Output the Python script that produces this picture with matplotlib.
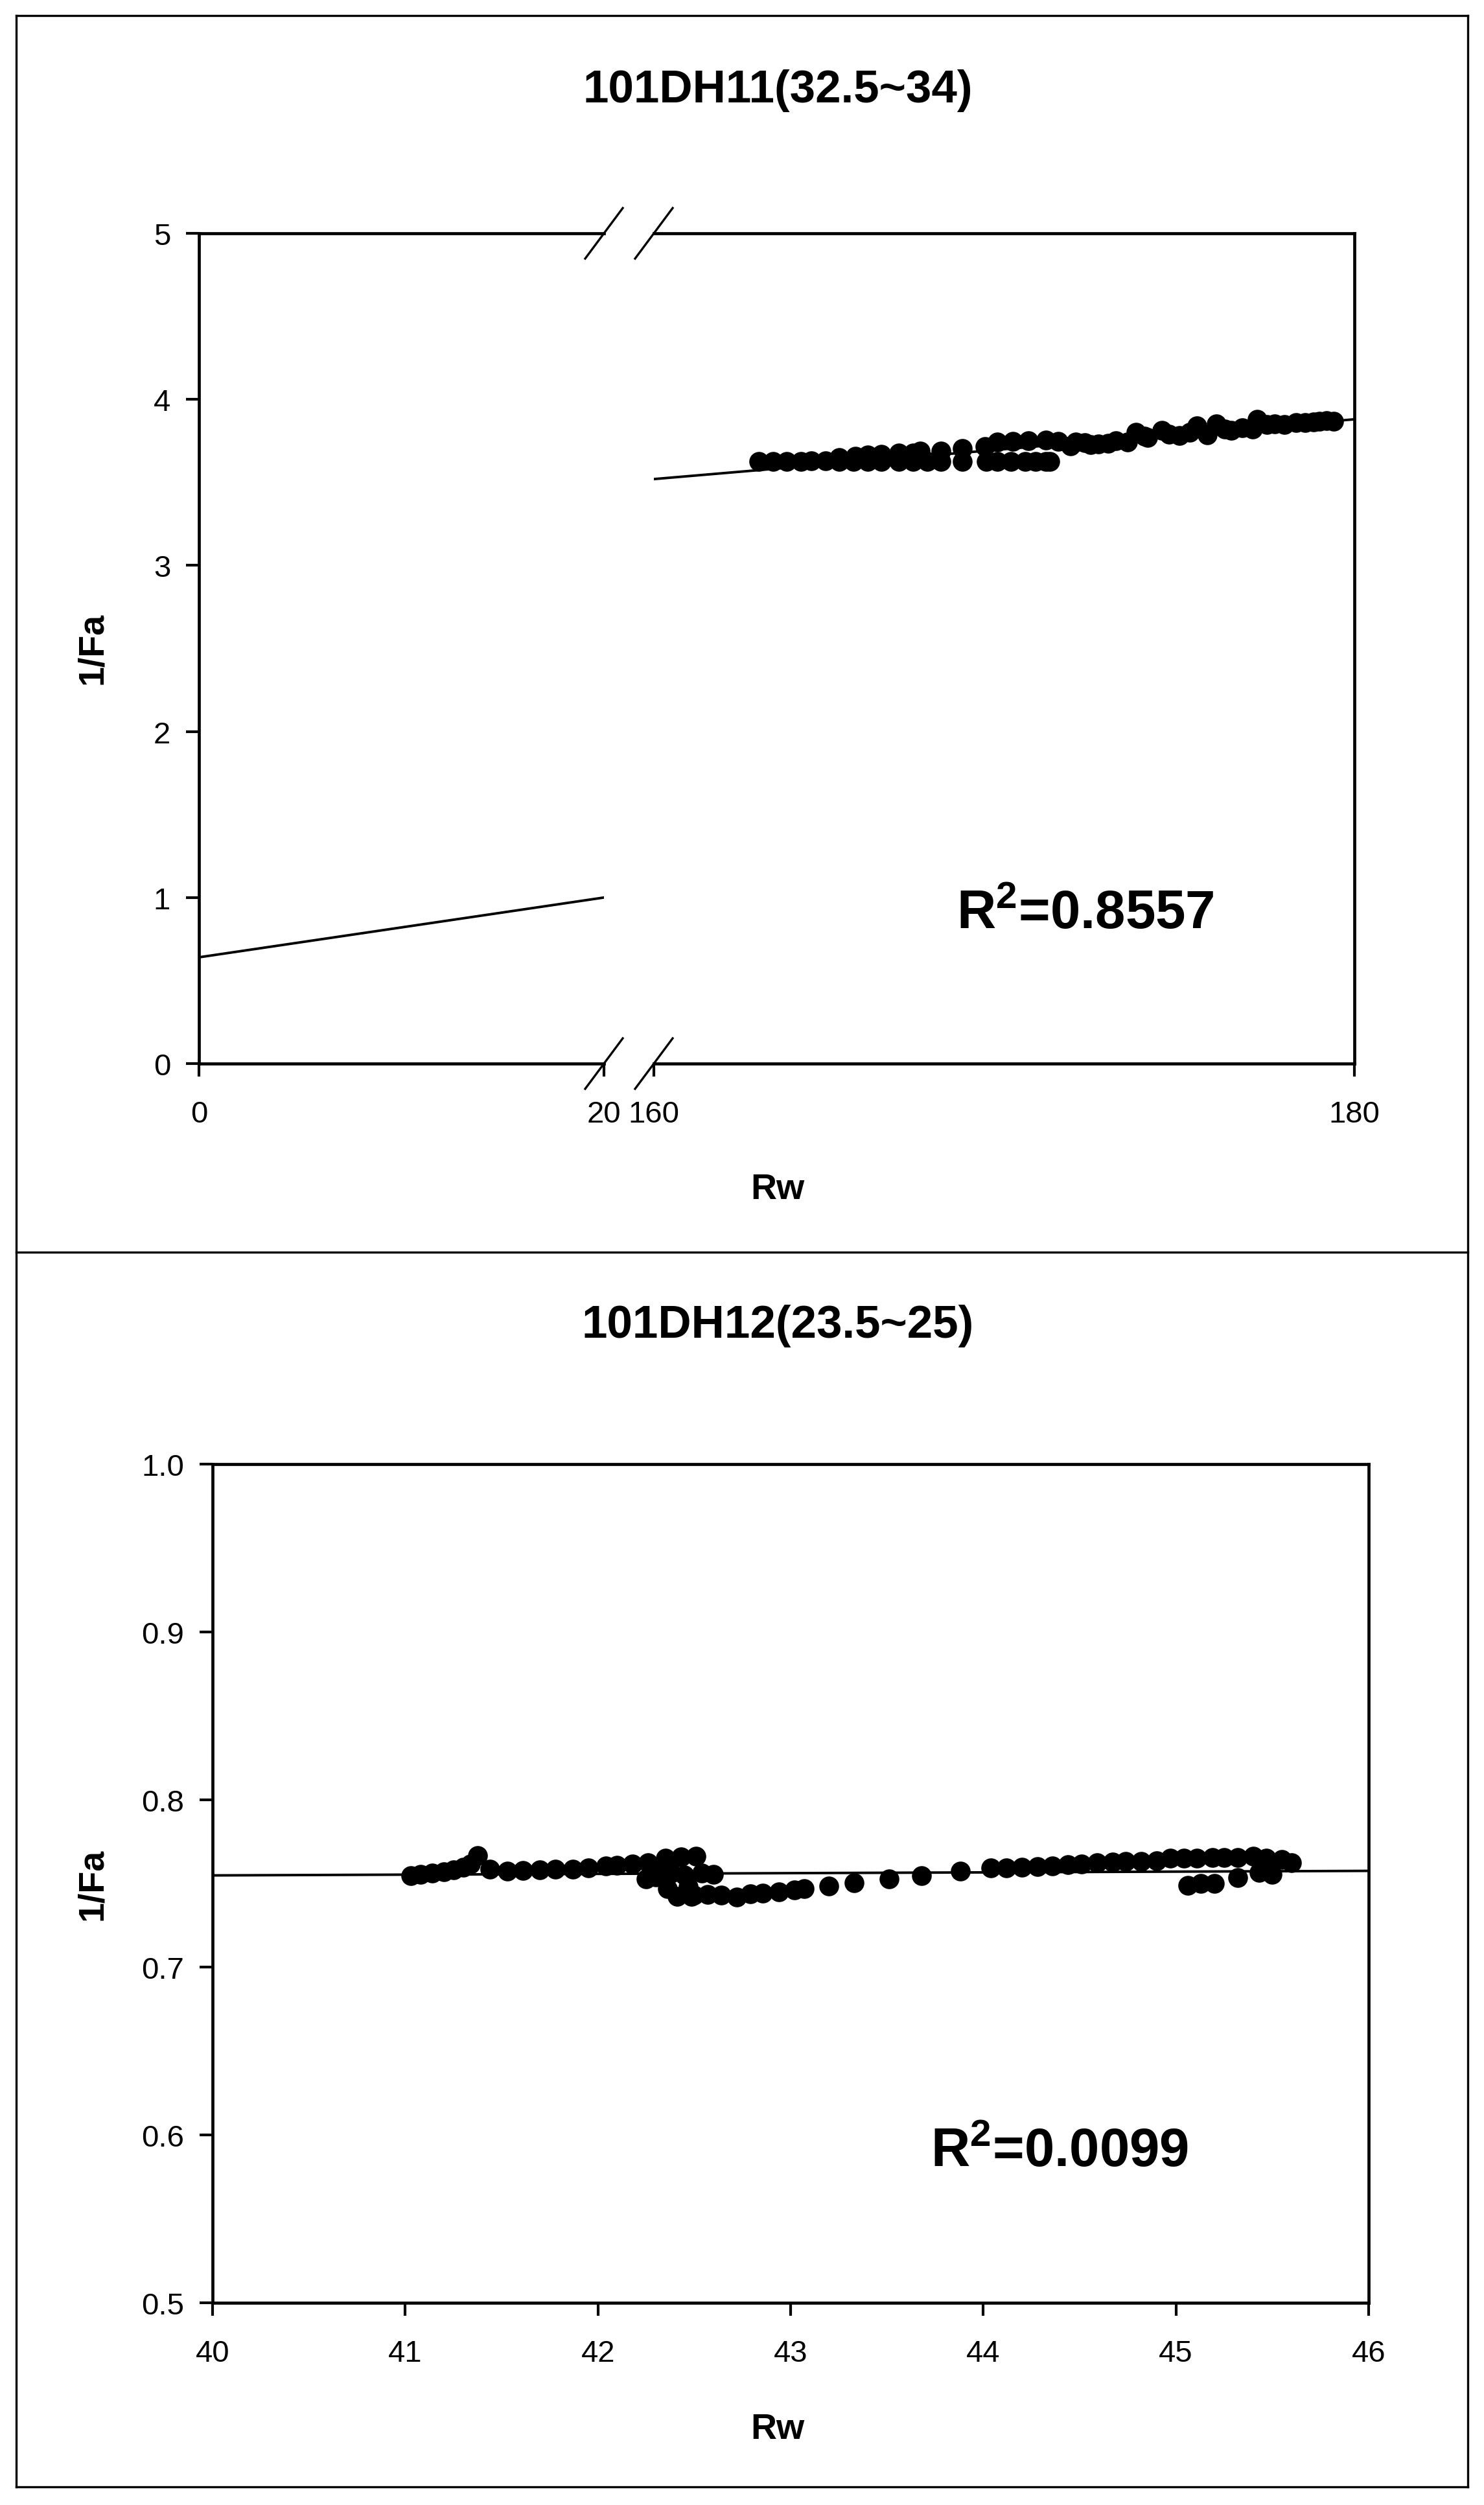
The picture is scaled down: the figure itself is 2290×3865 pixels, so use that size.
import numpy as np
import matplotlib
matplotlib.use("Agg")
import matplotlib.pyplot as plt
from matplotlib.lines import Line2D

plt.rcParams['font.family'] = ['Liberation Sans', 'DejaVu Sans']
plt.rcParams['mathtext.fontset'] = 'custom'
plt.rcParams['mathtext.rm'] = 'Liberation Sans'
plt.rcParams['mathtext.bf'] = 'Liberation Sans:bold'

# données
title_top = "101DH11(32.5~34)"
title_bot = "101DH12(23.5~25)"
r2_top = "0.8557"
r2_bot = "0.0099"

rw_top = [163.0, 163.4, 163.8, 164.2, 164.5, 164.9, 165.3, 165.3, 165.7, 165.75,
          166.1, 166.1, 166.5, 166.5, 167.0, 167.0, 167.4, 167.4, 167.6, 167.8,
          168.2, 168.2, 168.8, 168.8, 169.45, 169.5, 169.8, 169.8, 170.2, 170.25,
          170.6, 170.7, 170.9, 171.2, 171.2, 171.3, 171.55, 171.9, 172.04, 172.3,
          172.47, 172.7, 172.97, 173.2, 173.52, 173.77, 174.0, 174.1, 174.51, 174.7,
          175.0, 175.3, 175.5, 175.8, 176.06, 176.3, 176.48, 176.8, 177.1, 177.22,
          177.5, 177.72, 178.0, 178.34, 178.6, 178.83, 179.0, 179.2, 179.4]
fa_top = [3.625, 3.625, 3.626, 3.627, 3.630, 3.630, 3.628, 3.651, 3.628, 3.657,
          3.628, 3.664, 3.628, 3.670, 3.628, 3.677, 3.628, 3.677, 3.690, 3.628,
          3.628, 3.690, 3.628, 3.703, 3.716, 3.628, 3.742, 3.628, 3.626, 3.748,
          3.626, 3.750, 3.626, 3.755, 3.625, 3.625, 3.748, 3.720, 3.743, 3.740,
          3.729, 3.730, 3.735, 3.750, 3.742, 3.800, 3.780, 3.770, 3.813, 3.790,
          3.781, 3.800, 3.840, 3.787, 3.852, 3.820, 3.813, 3.830, 3.820, 3.878,
          3.850, 3.852, 3.850, 3.859, 3.860, 3.865, 3.870, 3.872, 3.870]

rw_bot = [41.03, 41.08, 41.14, 41.20, 41.25, 41.30, 41.34, 41.375, 41.44, 41.53,
          41.61, 41.70, 41.78, 41.87, 41.95, 42.04, 42.10, 42.18, 42.25, 42.26,
          42.30, 42.35, 42.41, 42.43, 42.485, 42.51, 42.50, 42.57, 42.60, 42.64,
          42.72, 42.79, 42.855, 42.94, 43.02, 43.07, 43.20, 43.33, 43.51, 43.68,
          43.88, 44.04, 44.12, 44.20, 44.28, 44.36, 44.44, 44.51, 44.59, 44.67,
          44.74, 44.82, 44.90, 44.97, 45.04, 45.06, 45.11, 45.13, 45.19, 45.20,
          45.25, 45.32, 45.32, 45.40, 45.43, 45.47, 45.50, 45.55, 45.60,
          42.31, 42.38, 42.45, 42.47, 42.54, 42.36]
fa_bot = [0.7546, 0.7553, 0.7560, 0.7570, 0.7580, 0.7595, 0.7615, 0.7665, 0.7585, 0.7575,
          0.7578, 0.7580, 0.7585, 0.7585, 0.7594, 0.7604, 0.7609, 0.7614, 0.7527, 0.7624,
          0.7540, 0.7650, 0.7424, 0.7660, 0.7424, 0.7662, 0.7430, 0.7434, 0.7553, 0.7430,
          0.7418, 0.7437, 0.7443, 0.7450, 0.7463, 0.7469, 0.7485, 0.7504, 0.7527, 0.7546,
          0.7572, 0.7591, 0.7594, 0.7598, 0.7601, 0.7604, 0.7611, 0.7617, 0.7624, 0.7627,
          0.7630, 0.7633, 0.7636, 0.7649, 0.7649, 0.7488, 0.7649, 0.7501, 0.7656, 0.7501,
          0.7656, 0.7656, 0.7534, 0.7662, 0.7566, 0.7649, 0.7553, 0.7643, 0.7624,
          0.7575, 0.7560, 0.7550, 0.7480, 0.7560, 0.7470]

# droites de régression (ordonnée, pente)
fit_top = (0.64, 0.0180)
fit_bot = (0.7548, 0.00045)

W, H = 2290, 3866
fig = plt.figure(figsize=(W / 200, H / 200), dpi=200)


def box(l, t, r, b):
    return [l / W, 1 - b / H, (r - l) / W, (b - t) / H]


def fx(x):
    return x / W


def fy(y):
    return 1 - y / H


def style(ax):
    for s in ax.spines.values():
        s.set_linewidth(1.7)
    ax.tick_params(direction='out', length=7.2, width=1.5, labelsize=17)
    ax.tick_params(axis='x', pad=13)
    ax.tick_params(axis='y', pad=8.6)
    ax.xaxis.set_ticks_position('bottom')
    ax.yaxis.set_ticks_position('left')


mk = dict(marker='o', ms=11, color='black', mew=0, ls='none')

# ---- graphique du haut (axe coupé) ----
ax1 = fig.add_axes(box(307, 361, 932, 1642))
ax2 = fig.add_axes(box(1009, 361, 2090, 1642))
for ax in (ax1, ax2):
    style(ax)
    ax.set_ylim(0, 5)

ax1.set_xlim(0, 20)
ax1.set_xticks([0, 20])
ax1.set_yticks(range(6))
ax1.spines['right'].set_visible(False)

ax2.set_xlim(160, 180)
ax2.set_xticks([160, 180])
ax2.set_yticks([])
ax2.spines['left'].set_visible(False)

xs = np.array(ax1.get_xlim())
ax1.plot(xs, fit_top[0] + fit_top[1] * xs, color='black', lw=1.4)
xs = np.array(ax2.get_xlim())
ax2.plot(xs, fit_top[0] + fit_top[1] * xs, color='black', lw=1.4, zorder=1)
ax2.plot(rw_top, fa_top, **mk, zorder=2)

# traits de coupure
for xb in (932, 1009):
    for yb in (361, 1642):
        fig.add_artist(Line2D([fx(xb - 29), fx(xb + 29)], [fy(yb + 39), fy(yb - 39)],
                              color='black', lw=1.2))

fig.text(fx(1200), fy(140), title_top, ha='center', va='center', fontsize=25.5, fontweight='bold')
fig.text(fx(1200), fy(1836), "Rw", ha='center', va='center', fontsize=20, fontweight='bold')
fig.text(fx(143), fy(1000), "1/Fa", ha='center', va='center', rotation=90, fontsize=20, fontweight='bold')
fig.text(fx(1476), fy(1433), r"$\mathbf{R^2}$=" + r2_top, ha='left', va='baseline',
         fontsize=30, fontweight='bold')

# ---- graphique du bas ----
ax3 = fig.add_axes(box(328, 2260, 2112, 3554))
style(ax3)
ax3.set_xlim(40, 46)
ax3.set_ylim(0.5, 1.0)
ax3.set_xticks(range(40, 47))
ax3.set_yticks(np.arange(0.5, 1.01, 0.1))
ax3.yaxis.set_major_formatter(matplotlib.ticker.FormatStrFormatter('%.1f'))
xs = np.array(ax3.get_xlim())
ax3.plot(xs, fit_bot[0] + fit_bot[1] * (xs - 40), color='black', lw=1.4, zorder=1)
ax3.plot(rw_bot, fa_bot, **mk, zorder=2)

fig.text(fx(1200), fy(2046), title_bot, ha='center', va='center', fontsize=25.5, fontweight='bold')
fig.text(fx(1200), fy(3749), "Rw", ha='center', va='center', fontsize=20, fontweight='bold')
fig.text(fx(143), fy(2907), "1/Fa", ha='center', va='center', rotation=90, fontsize=20, fontweight='bold')
fig.text(fx(1436), fy(3343), r"$\mathbf{R^2}$=" + r2_bot, ha='left', va='baseline',
         fontsize=30, fontweight='bold')

# cadre extérieur
for seg in ([(25, 25), (2265, 25)], [(25, 3838), (2265, 3838)], [(25, 25), (25, 3838)],
            [(2265, 25), (2265, 3838)], [(25, 1933), (2265, 1933)]):
    (xa, ya), (xb, yb) = seg
    fig.add_artist(Line2D([fx(xa), fx(xb)], [fy(ya), fy(yb)], color='black', lw=1.2))

fig.savefig('out.png', dpi=200, facecolor='white')
